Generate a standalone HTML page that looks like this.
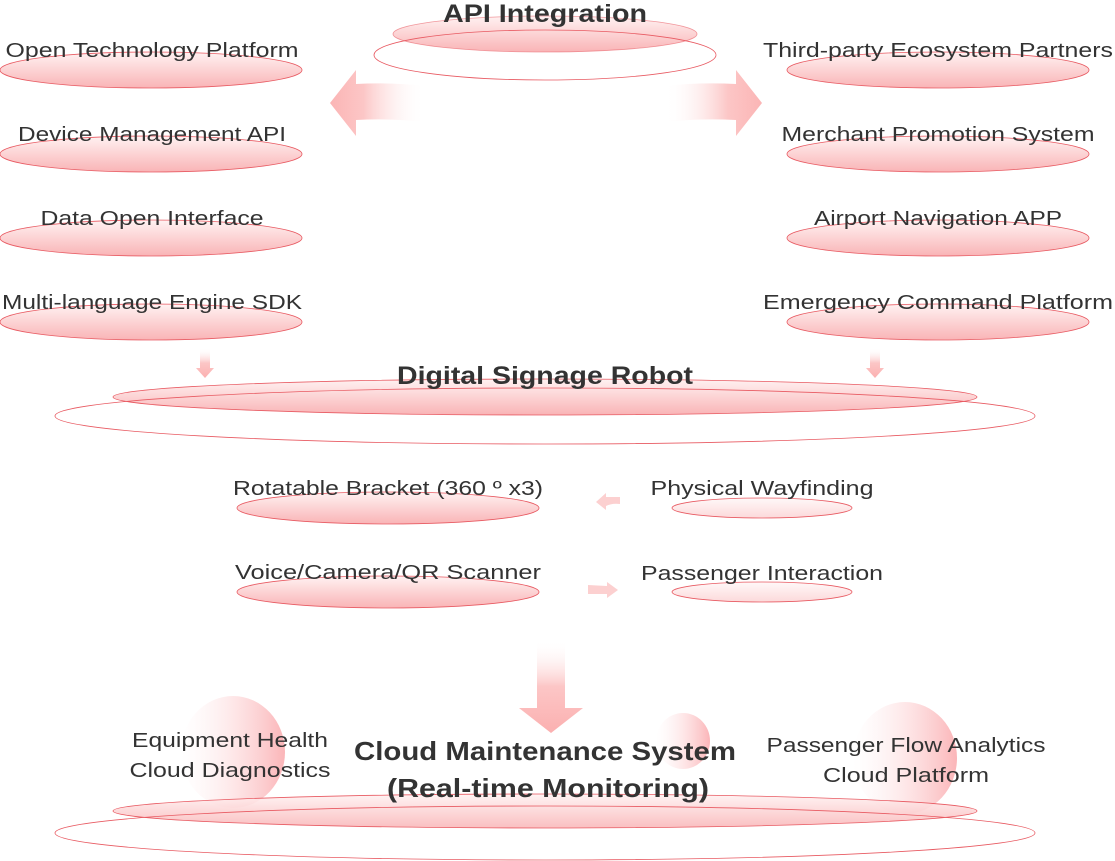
<!DOCTYPE html>
<html><head><meta charset="utf-8"><style>
html,body{margin:0;padding:0;background:#fff;}
svg{display:block;}
text{font-family:"Liberation Sans",sans-serif;fill:#333;}
.t{font-size:20px;}
.b{font-weight:bold;}
</style></head><body>
<svg width="1115" height="861" viewBox="0 0 1115 861" xmlns="http://www.w3.org/2000/svg">
<defs>
<linearGradient id="g" x1="0" y1="0" x2="0" y2="1">
<stop offset="0" stop-color="#fff2f2"/><stop offset="1" stop-color="#f9b4b6"/>
</linearGradient>
<linearGradient id="al" x1="0" y1="0" x2="1" y2="0">
<stop offset="0" stop-color="#fbb5b5"/><stop offset="0.35" stop-color="#fcc6c6"/><stop offset="1" stop-color="#fff" stop-opacity="0"/>
</linearGradient>
<linearGradient id="ar" x1="1" y1="0" x2="0" y2="0">
<stop offset="0" stop-color="#fbb5b5"/><stop offset="0.35" stop-color="#fcc6c6"/><stop offset="1" stop-color="#fff" stop-opacity="0"/>
</linearGradient>
<linearGradient id="ad" x1="0" y1="0" x2="0" y2="1">
<stop offset="0" stop-color="#fff" stop-opacity="0"/><stop offset="0.5" stop-color="#fcc6c6"/><stop offset="1" stop-color="#fbb0b0"/>
</linearGradient>
<linearGradient id="c" x1="0" y1="0" x2="1" y2="0">
<stop offset="0" stop-color="#fff" stop-opacity="0.3"/><stop offset="1" stop-color="#fbb5b8"/>
</linearGradient>
</defs>
<g stroke="#e85a62" stroke-width="0.8">
<!-- API -->
<ellipse cx="545" cy="34" rx="152" ry="18" fill="url(#g)" stroke-opacity="0.6"/>
<ellipse cx="545" cy="55" rx="171" ry="25" fill="none"/>
<!-- left -->
<ellipse cx="151" cy="70" rx="151" ry="18" fill="url(#g)"/>
<ellipse cx="151" cy="154" rx="151" ry="18" fill="url(#g)"/>
<ellipse cx="151" cy="238" rx="151" ry="18" fill="url(#g)"/>
<ellipse cx="151" cy="322" rx="151" ry="18" fill="url(#g)"/>
<!-- right -->
<ellipse cx="938" cy="70" rx="151" ry="18" fill="url(#g)"/>
<ellipse cx="938" cy="154" rx="151" ry="18" fill="url(#g)"/>
<ellipse cx="938" cy="238" rx="151" ry="18" fill="url(#g)"/>
<ellipse cx="938" cy="322" rx="151" ry="18" fill="url(#g)"/>
<!-- robot -->
<ellipse cx="545" cy="397" rx="432" ry="18" fill="url(#g)"/>
<ellipse cx="545" cy="416" rx="490" ry="28" fill="none"/>
<ellipse cx="388" cy="508" rx="151" ry="16" fill="url(#g)"/>
<ellipse cx="388" cy="592" rx="151" ry="16" fill="url(#g)"/>
<ellipse cx="762" cy="508" rx="90" ry="10" fill="url(#g)" fill-opacity="0.5"/>
<ellipse cx="762" cy="592" rx="90" ry="10" fill="url(#g)" fill-opacity="0.5"/>
</g>
<!-- arrows -->
<path d="M330,103 L356,70 L356,84 Q390,82 425,86 L425,122 Q390,118 356,120 L356,136 Z" fill="url(#al)"/>
<path d="M762,103 L736,70 L736,84 Q700,82 665,86 L665,122 Q700,118 736,120 L736,136 Z" fill="url(#ar)"/>
<path d="M200,348 L210,348 L210,368 L214,368 L205,378 L196,368 L200,368 Z" fill="url(#ad)"/>
<path d="M870,348 L880,348 L880,368 L884,368 L875,378 L866,368 L870,368 Z" fill="url(#ad)"/>
<path d="M620,497 L606,497 L606,493 L596,502 L606,510 L606,506 Q612,503 620,504 Z" fill="#fcd0d0"/>
<path d="M588,585 L607,586 L607,582 L618,590 L607,598 L607,594 L588,594 Z" fill="#fcd0d0"/>
<path d="M537,640 L565,640 L565,708 L583,708 L551,733 L519,708 L537,708 Z" fill="url(#ad)"/>
<!-- circles -->
<ellipse cx="233" cy="752" rx="52" ry="56" fill="url(#c)"/>
<ellipse cx="683" cy="741" rx="27" ry="28" fill="url(#c)"/>
<ellipse cx="905" cy="758" rx="52" ry="56" fill="url(#c)"/>
<g stroke="#e85a62" stroke-width="0.8">
<ellipse cx="545" cy="811" rx="432" ry="17" fill="url(#g)" fill-opacity="0.85"/>
<ellipse cx="545" cy="833" rx="490" ry="27" fill="none"/>
</g>
<!-- text -->
<text x="545" y="22" text-anchor="middle" class="b" font-size="25" textLength="204" lengthAdjust="spacingAndGlyphs">API Integration</text>
<text x="152" y="57" text-anchor="middle" class="t" textLength="293" lengthAdjust="spacingAndGlyphs">Open Technology Platform</text>
<text x="152" y="141" text-anchor="middle" class="t" textLength="268" lengthAdjust="spacingAndGlyphs">Device Management API</text>
<text x="152" y="225" text-anchor="middle" class="t" textLength="223" lengthAdjust="spacingAndGlyphs">Data Open Interface</text>
<text x="152" y="309" text-anchor="middle" class="t" textLength="300" lengthAdjust="spacingAndGlyphs">Multi-language Engine SDK</text>
<text x="938" y="57" text-anchor="middle" class="t" textLength="350" lengthAdjust="spacingAndGlyphs">Third-party Ecosystem Partners</text>
<text x="938" y="141" text-anchor="middle" class="t" textLength="313" lengthAdjust="spacingAndGlyphs">Merchant Promotion System</text>
<text x="938" y="225" text-anchor="middle" class="t" textLength="248" lengthAdjust="spacingAndGlyphs">Airport Navigation APP</text>
<text x="938" y="309" text-anchor="middle" class="t" textLength="350" lengthAdjust="spacingAndGlyphs">Emergency Command Platform</text>
<text x="545" y="384" text-anchor="middle" class="b" font-size="25" textLength="296" lengthAdjust="spacingAndGlyphs">Digital Signage Robot</text>
<text x="388" y="495" text-anchor="middle" class="t" textLength="310" lengthAdjust="spacingAndGlyphs">Rotatable Bracket (360 º x3)</text>
<text x="388" y="579" text-anchor="middle" class="t" textLength="306" lengthAdjust="spacingAndGlyphs">Voice/Camera/QR Scanner</text>
<text x="762" y="495" text-anchor="middle" class="t" textLength="223" lengthAdjust="spacingAndGlyphs">Physical Wayfinding</text>
<text x="762" y="580" text-anchor="middle" class="t" textLength="242" lengthAdjust="spacingAndGlyphs">Passenger Interaction</text>
<text x="230" y="747" text-anchor="middle" class="t" textLength="196" lengthAdjust="spacingAndGlyphs">Equipment Health</text>
<text x="230" y="777" text-anchor="middle" class="t" textLength="201" lengthAdjust="spacingAndGlyphs">Cloud Diagnostics</text>
<text x="906" y="752" text-anchor="middle" class="t" textLength="279" lengthAdjust="spacingAndGlyphs">Passenger Flow Analytics</text>
<text x="906" y="782" text-anchor="middle" class="t" textLength="166" lengthAdjust="spacingAndGlyphs">Cloud Platform</text>
<text x="545" y="760" text-anchor="middle" class="b" font-size="26" textLength="382" lengthAdjust="spacingAndGlyphs">Cloud Maintenance System</text>
<text x="548" y="797" text-anchor="middle" class="b" font-size="26" textLength="322" lengthAdjust="spacingAndGlyphs">(Real-time Monitoring)</text>
</svg>
</body></html>
